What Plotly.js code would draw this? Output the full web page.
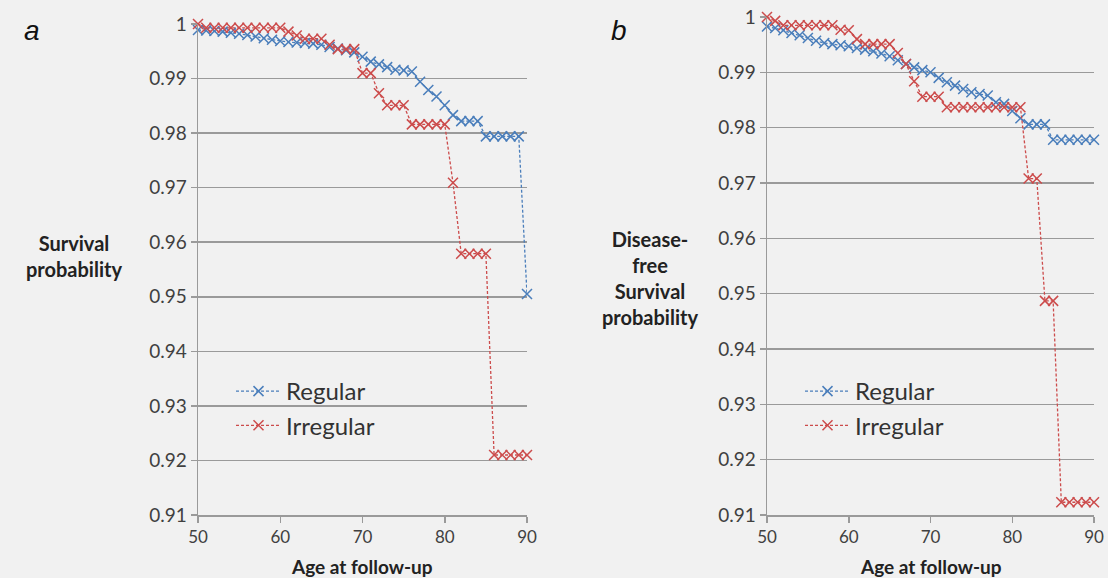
<!DOCTYPE html>
<html>
<head>
<meta charset="utf-8">
<script src="https://cdn.plot.ly/plotly-3.0.1.min.js"></script>
<style>
html,body{margin:0;padding:0;background:#f1f1f1;}
#chart{width:1108px;height:578px;}
</style>
</head>
<body>
<div id="chart"></div>
<script>
// Ages at follow-up
const ages = [50,51,52,53,54,55,56,57,58,59,60,61,62,63,64,65,66,67,68,69,70,71,72,73,74,75,76,77,78,79,80,81,82,83,84,85,86,87,88,89,90];

// Panel a: Survival probability
const survRegular = [0.9989,0.9988,0.9987,0.9986,0.9984,0.9982,0.9980,0.9977,0.9974,0.9971,0.9969,0.9967,0.9966,0.9965,0.9964,0.9962,0.9958,0.9955,0.9952,0.9948,0.9940,0.9931,0.9926,0.9921,0.9916,0.9915,0.9913,0.9894,0.9879,0.9867,0.9851,0.9833,0.9822,0.9822,0.9822,0.9794,0.9794,0.9794,0.9794,0.9794,0.9505];
const survIrregular = [1.0000,0.9993,0.9993,0.9993,0.9993,0.9993,0.9993,0.9993,0.9993,0.9993,0.9993,0.9986,0.9979,0.9973,0.9973,0.9973,0.9962,0.9954,0.9954,0.9954,0.9910,0.9910,0.9873,0.9851,0.9851,0.9851,0.9816,0.9816,0.9816,0.9816,0.9816,0.9709,0.9579,0.9579,0.9579,0.9579,0.9210,0.9210,0.9210,0.9210,0.9210];

// Panel b: Disease-free survival probability
const dfsRegular = [0.9983,0.9980,0.9976,0.9971,0.9967,0.9962,0.9957,0.9953,0.9951,0.9949,0.9947,0.9944,0.9941,0.9938,0.9934,0.9929,0.9922,0.9915,0.9909,0.9904,0.9900,0.9890,0.9882,0.9876,0.9870,0.9864,0.9861,0.9858,0.9846,0.9843,0.9830,0.9817,0.9806,0.9806,0.9806,0.9778,0.9778,0.9778,0.9778,0.9778,0.9778];
const dfsIrregular = [1.0000,0.9993,0.9985,0.9985,0.9985,0.9985,0.9985,0.9985,0.9985,0.9977,0.9976,0.9960,0.9951,0.9951,0.9951,0.9951,0.9935,0.9915,0.9884,0.9856,0.9856,0.9856,0.9837,0.9837,0.9837,0.9837,0.9837,0.9837,0.9837,0.9837,0.9837,0.9837,0.9708,0.9708,0.9487,0.9487,0.9123,0.9123,0.9123,0.9123,0.9123];

const seriesNames = ["Regular","Irregular"];
const yTickVals = [0.91,0.92,0.93,0.94,0.95,0.96,0.97,0.98,0.99,1];
const yTickText = ["0.91","0.92","0.93","0.94","0.95","0.96","0.97","0.98","0.99","1"];
const xTickVals = [50,60,70,80,90];

const BLUE = "#4a7ebb";
const RED = "#cc4b4b";
const W = 1108, H = 578;
const px = v => v / W;
const py = v => 1 - v / H;

function tr(y, name, color, xa, ya, leg) {
  return {
    x: ages, y: y, name: name, type: "scatter", mode: "lines+markers",
    xaxis: xa, yaxis: ya, legend: leg, legendgroup: leg + name, cliponaxis: false,
    line: {color: color, width: 1.3, dash: "3px,2px"},
    marker: {symbol: "x-thin-open", size: 10, color: color, line: {color: color, width: 1.5}}
  };
}

const data = [
  tr(survRegular, seriesNames[0], BLUE, "x", "y", "legend"),
  tr(survIrregular, seriesNames[1], RED, "x", "y", "legend"),
  tr(dfsRegular, seriesNames[0], BLUE, "x2", "y2", "legend2"),
  tr(dfsIrregular, seriesNames[1], RED, "x2", "y2", "legend2")
];

const FAM = "Lato, 'Open Sans', sans-serif";
const xTickFont = {family: FAM, size: 17, color: "#404040"};
const yTickFont = {family: FAM, size: 19, color: "#404040"};
function xax(d) {
  return {domain: d, range: [50, 90], tickvals: xTickVals, showgrid: false, zeroline: false,
    showline: true, linecolor: "#9a9a9a", linewidth: 1.5, ticks: "outside", ticklen: 6,
    tickcolor: "#9a9a9a", tickwidth: 1.5, tickfont: xTickFont, fixedrange: true};
}
function yax(d, anchor) {
  return {domain: d, range: [0.91, 1.0], tickvals: yTickVals, ticktext: yTickText, anchor: anchor,
    showgrid: true, gridcolor: "#9a9a9a", gridwidth: 1.5, zeroline: false,
    showline: true, linecolor: "#9a9a9a", linewidth: 1.5, ticks: "outside", ticklen: 6,
    tickcolor: "#9a9a9a", tickwidth: 1.5, tickfont: yTickFont, fixedrange: true};
}

const titleFont = {family: FAM, size: 19, color: "#222", weight: "bold"};
const yTitleFont = {family: FAM, size: 20, color: "#222", weight: "bold"};
const legendFont = {family: FAM, size: 24, color: "#333"};
const letterFont = {family: "'Liberation Sans', Arial, sans-serif", size: 28, color: "#111", style: "italic"};

function ann(text, x, y, font) {
  return {text: text, x: px(x), y: py(y), xref: "paper", yref: "paper", showarrow: false,
    xanchor: "center", yanchor: "middle", align: "center", font: font};
}

const layout = {
  width: W, height: H,
  paper_bgcolor: "#f1f1f1", plot_bgcolor: "#f1f1f1",
  margin: {l: 0, r: 0, t: 0, b: 0},
  showlegend: true,
  xaxis: Object.assign(xax([px(198), px(527)]), {anchor: "y"}),
  yaxis: yax([1 - 515/H, 1 - 24/H], "x"),
  xaxis2: Object.assign(xax([px(767), px(1094)]), {anchor: "y2"}),
  yaxis2: yax([1 - 515/H, 1 - 17/H], "x2"),
  legend: {x: px(231), y: py(369), xanchor: "left", yanchor: "top", bgcolor: "rgba(0,0,0,0)",
    font: legendFont, traceorder: "grouped", tracegroupgap: 0, itemwidth: 45},
  legend2: {x: px(800), y: py(369), xanchor: "left", yanchor: "top", bgcolor: "rgba(0,0,0,0)",
    font: legendFont, traceorder: "grouped", tracegroupgap: 0, itemwidth: 45},
  annotations: [
    ann("a", 32, 30, letterFont),
    ann("b", 619, 30, letterFont),
    ann("Age at follow-up", 362, 566, titleFont),
    ann("Age at follow-up", 931, 566, titleFont),
    ann("Survival<br>probability", 74, 256, yTitleFont),
    ann("Disease-<br>free<br>Survival<br>probability", 650, 278, yTitleFont)
  ]
};

Plotly.newPlot("chart", data, layout, {displayModeBar: false, staticPlot: true});
</script>
</body>
</html>
